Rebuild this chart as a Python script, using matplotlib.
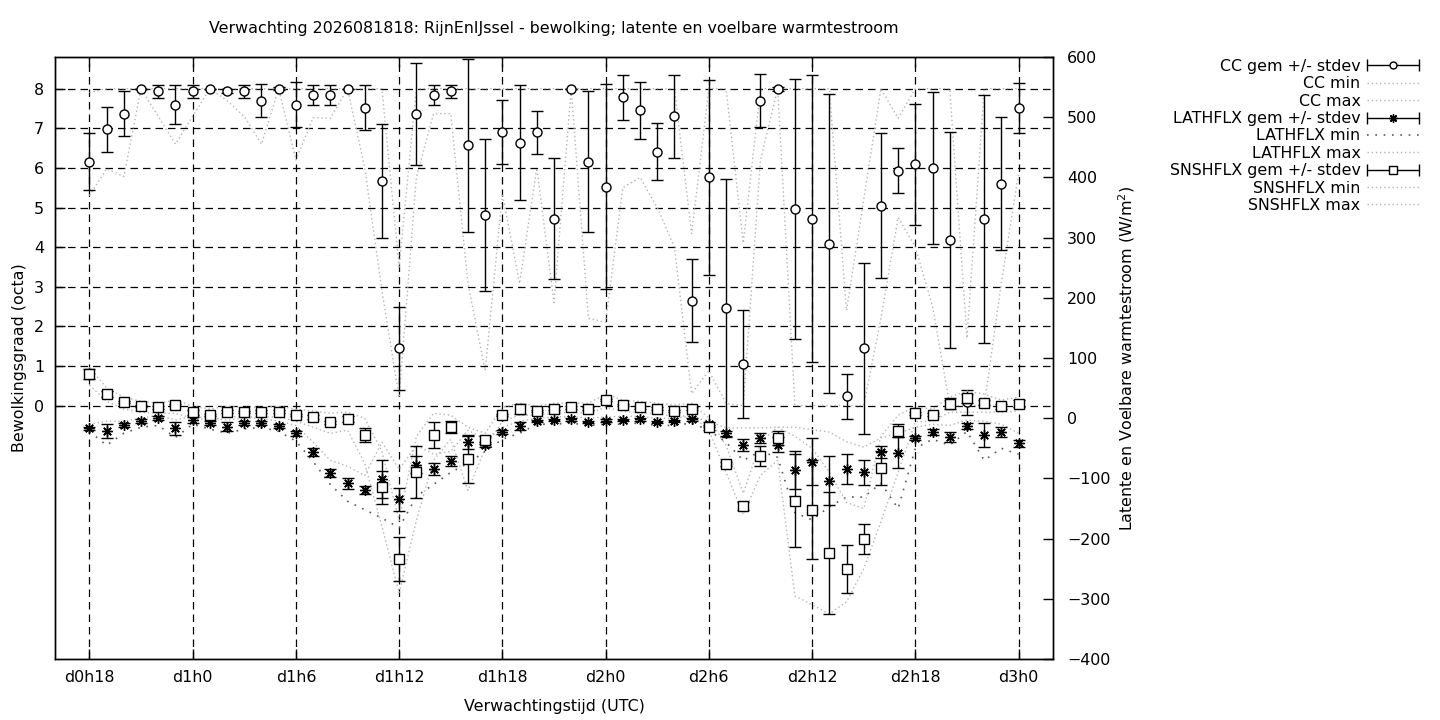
import matplotlib
matplotlib.use("Agg")
import matplotlib.pyplot as plt
from matplotlib.lines import Line2D
from matplotlib.collections import LineCollection
from matplotlib.container import ErrorbarContainer
from matplotlib.legend_handler import HandlerErrorbar

# forecast hours (d0h18 .. d3h0)
hours = list(range(18, 73))
tick_hours = [18, 24, 30, 36, 42, 48, 54, 60, 66, 72]
tick_labels = ['d0h18', 'd1h0', 'd1h6', 'd1h12', 'd1h18',
               'd2h0', 'd2h6', 'd2h12', 'd2h18', 'd3h0']

# cloud cover (octa)
cc_mean = [6.16, 6.97, 7.37, 8.0, 7.93, 7.6, 7.93, 8.0, 7.93, 7.93, 7.7, 8.0,
           7.6, 7.85, 7.85, 8.0, 7.52, 5.68, 1.44, 7.37, 7.85, 7.93, 6.57, 4.8,
           6.9, 6.64, 6.9, 4.72, 8.0, 6.16, 5.53, 7.78, 7.45, 6.41, 7.3, 2.65,
           5.76, 2.47, 1.04, 7.7, 8.0, 4.97, 4.72, 4.09, 0.23, 1.44, 5.05, 5.93,
           6.09, 6.0, 4.17, 0.08, 4.72, 5.6, 7.52]
cc_std = [0.72, 0.56, 0.56, 0.0, 0.16, 0.49, 0.16, 0.0, 0.05, 0.16, 0.42, 0.03,
          0.57, 0.25, 0.25, 0.0, 0.57, 1.44, 1.04, 1.29, 0.25, 0.16, 2.18, 1.92,
          0.81, 1.45, 0.54, 1.52, 0.0, 1.78, 2.58, 0.56, 0.71, 0.72, 1.05, 1.05,
          2.47, 3.26, 1.36, 0.66, 0.05, 3.28, 3.62, 3.78, 0.56, 2.17, 1.84, 0.56,
          1.52, 1.92, 2.73, 0.32, 3.13, 1.68, 0.63]
cc_min = [5.3, 5.98, 5.78, 8.0, 7.3, 6.6, 7.3, 8.0, 7.7, 7.3, 6.6, 8.0,
          6.2, 7.27, 7.25, 8.0, 6.0, 2.9, 0.2, 5.76, 7.37, 7.37, 3.08, 0.88,
          5.35, 3.08, 6.0, 2.6, 8.0, 2.2, 2.1, 5.5, 5.76, 5.0, 4.0, 0.3,
          0.88, 0.05, 0.0, 6.2, 8.0, 0.0, 0.0, 0.0, 0.0, 0.0, 2.2, 4.75,
          4.0, 2.5, 0.0, 0.0, 0.0, 3.1, 5.86]
cc_max = [7.9, 8.0, 8.0, 8.0, 8.0, 8.0, 8.0, 8.0, 8.0, 8.0, 8.0, 8.0,
          8.0, 8.0, 8.0, 8.0, 8.0, 8.0, 3.5, 8.0, 8.0, 8.0, 8.0, 8.0,
          8.0, 8.0, 8.0, 8.0, 8.0, 8.0, 8.0, 8.0, 8.0, 8.0, 8.0, 4.34,
          8.0, 8.0, 4.1, 8.0, 8.0, 8.0, 8.0, 8.0, 2.4, 5.2, 8.0, 7.25,
          8.0, 8.0, 8.0, 1.7, 8.0, 8.0, 8.0]

# latent heat flux (W/m2)
lh_mean = [-17, -21, -11, -5, 0, -17, -3, -8, -14, -8, -8, -13,
           -25, -56, -91, -108, -119, -101, -135, -77, -85, -71, -40, -44,
           -23, -13, -5, -3, -2, -6, -4, -3, -2, -6, -5, -2,
           -10, -25, -44, -33, -44, -86, -72, -104, -85, -90, -56, -57,
           -33, -23, -31, -13, -28, -23, -42]
lh_std = [3, 12, 3, 3, 3, 11, 5, 3, 8, 3, 3, 4,
          4, 6, 7, 9, 7, 32, 19, 14, 10, 8, 11, 4,
          4, 6, 2, 2, 2, 2, 2, 2, 2, 2, 2, 2,
          4, 4, 10, 8, 12, 32, 39, 41, 25, 21, 10, 25,
          4, 5, 8, 5, 20, 9, 6]
lh_min = [-22, -45, -25, -15, -12, -32, -10, -18, -25, -18, -15, -22,
          -38, -72, -110, -138, -152, -166, -182, -130, -110, -90, -75, -55,
          -35, -25, -10, -10, -8, -12, -10, -10, -8, -12, -12, -8,
          -20, -40, -70, -55, -65, -157, -169, -147, -131, -131, -108, -150,
          -50, -35, -45, -22, -70, -50, -60]
lh_max = [-10, -5, -5, 0, 5, -3, 3, 0, -3, 0, 0, -5,
          -12, -40, -70, -80, -95, -40, -85, -45, -60, -55, -20, -35,
          -15, -5, 0, 2, 3, 0, 2, 3, 3, 0, 0, 3,
          -5, -16, -16, -16, -15, -15, -19, -23, -39, -48, -33, -25,
          -15, -10, -12, -3, -5, -10, -25]

# sensible heat flux (W/m2)
sn_mean = [73, 41, 27, 20, 18, 22, 10, 5, 11, 10, 11, 11,
           5, 2, -7, -1, -28, -115, -234, -90, -28, -15, -68, -36,
           5, 15, 12, 16, 18, 16, 30, 22, 18, 16, 12, 16,
           -15, -76, -146, -63, -33, -137, -152, -224, -250, -200, -83, -21,
           8, 6, 24, 33, 26, 20, 24]
sn_std = [8, 5, 2, 2, 2, 2, 4, 2, 2, 2, 2, 2,
          2, 3, 3, 5, 11, 27, 36, 43, 22, 10, 40, 7,
          2, 8, 2, 2, 2, 2, 2, 2, 2, 2, 2, 2,
          4, 3, 7, 16, 11, 77, 82, 102, 40, 25, 28, 11,
          2, 2, 9, 8, 4, 4, 6]
sn_min = [55, 28, 15, 10, 8, 8, 0, -3, 2, 2, 2, 2,
          -5, -15, -25, -20, -75, -180, -290, -170, -70, -35, -120, -50,
          -5, 5, 5, 8, 10, 8, 18, 12, 8, 8, 2, 5,
          -20, -90, -160, -95, -70, -295, -310, -325, -305, -250, -172, -90,
          -6, -5, 10, 10, 10, 10, 12]
sn_max = [85, 50, 35, 28, 25, 30, 20, 15, 20, 18, 18, 20,
          15, 12, 8, 10, 0, -55, -170, -30, 8, 5, -15, -25,
          18, 25, 20, 25, 25, 25, 40, 30, 28, 25, 22, 25,
          0, -45, -125, -40, -15, -30, -50, -90, -140, -150, -30, 5,
          19, 15, 35, 45, 40, 30, 35]

FS = 11.4
plt.rcParams['font.family'] = 'DejaVu Sans'
plt.rcParams['font.size'] = FS

light = dict(ls=(0, (1, 2)), color='#b4b4b4', lw=1)
dark = dict(ls=(0, (1, 4)), color='#5a5a5a', lw=1.2)


def draw_err(axis, mean, std, marker, ms):
    axis.errorbar(hours, mean, yerr=std, fmt='', marker=marker, ls='none',
                  ms=ms, mfc='white', mec='black', mew=1, color='black',
                  ecolor='black', elinewidth=1, capsize=4, capthick=1,
                  zorder=3)


def key_errorbar(marker, ms, label):
    pt = Line2D([], [], marker=marker, ms=ms, mfc='white', mec='black',
                mew=1, ls='none', color='black')
    cap = Line2D([], [], marker='|', ms=8, mew=1, color='black', ls='none')
    bar = LineCollection([], colors='black', linewidths=1)
    return ErrorbarContainer((pt, (cap,), (bar,)), has_xerr=True,
                             has_yerr=False, label=label)


fig = plt.figure(figsize=(14.4, 7.2), dpi=100)
ax = fig.add_axes([55 / 1440, 61 / 720, 998 / 1440, 602 / 720])
ax2 = ax.twinx()

star = (8, 2, 0)

draw_err(ax, cc_mean, cc_std, 'o', 6.5)
ax.plot(hours, cc_min, **light)
ax.plot(hours, cc_max, **light)

draw_err(ax2, lh_mean, lh_std, star, 7.5)
ax2.plot(hours, lh_min, **dark)
ax2.plot(hours, lh_max, **light)

draw_err(ax2, sn_mean, sn_std, 's', 7)
ax2.plot(hours, sn_min, **light)
ax2.plot(hours, sn_max, **light)

ax.set_xlim(16, 74)
ax.set_ylim(-6.4, 8.8)
ax2.set_ylim(-400, 600)

ax.set_xticks(tick_hours)
ax.set_xticklabels(tick_labels)
ax.set_yticks(range(0, 9))
ax2.set_yticks(range(-400, 601, 100))

ax.grid(True, color='black', ls=(0, (6, 4)), lw=0.9)
ax.tick_params(axis='both', direction='in', length=7, width=1, labelsize=FS)
ax.tick_params(axis='x', top=True, pad=8)
ax.tick_params(axis='y', pad=8)
ax2.tick_params(axis='y', direction='in', length=7, width=1, labelsize=FS, pad=10)
for a in (ax, ax2):
    for s in a.spines.values():
        s.set_linewidth(1)

ax.set_title('Verwachting 2026081818: RijnEnIJssel - bewolking; '
             'latente en voelbare warmtestroom', fontsize=FS, pad=17)
ax.set_xlabel('Verwachtingstijd (UTC)', fontsize=FS, labelpad=10)
ax.set_ylabel('Bewolkingsgraad (octa)', fontsize=FS, labelpad=5)
ax2.set_ylabel('Latente en Voelbare warmtestroom (W/m$^2$)', fontsize=FS,
               labelpad=4)

handles = [
    key_errorbar('o', 5, 'CC gem +/- stdev'),
    Line2D([], [], **light),
    Line2D([], [], **light),
    key_errorbar(star, 6, 'LATHFLX gem +/- stdev'),
    Line2D([], [], **dark),
    Line2D([], [], **light),
    key_errorbar('s', 5.5, 'SNSHFLX gem +/- stdev'),
    Line2D([], [], **light),
    Line2D([], [], **light),
]
labels = ['CC gem +/- stdev', 'CC min', 'CC max',
          'LATHFLX gem +/- stdev', 'LATHFLX min', 'LATHFLX max',
          'SNSHFLX gem +/- stdev', 'SNSHFLX min', 'SNSHFLX max']
fig.legend(handles, labels, loc='upper right',
           bbox_to_anchor=(1419 / 1440, 1 - 59 / 720),
           markerfirst=False, frameon=False, fontsize=FS,
           handlelength=3.3, handletextpad=0.4, labelspacing=0.15,
           borderpad=0, borderaxespad=0,
           handler_map={ErrorbarContainer: HandlerErrorbar(xerr_size=1.65)})

fig.savefig('out.png', dpi=100)
